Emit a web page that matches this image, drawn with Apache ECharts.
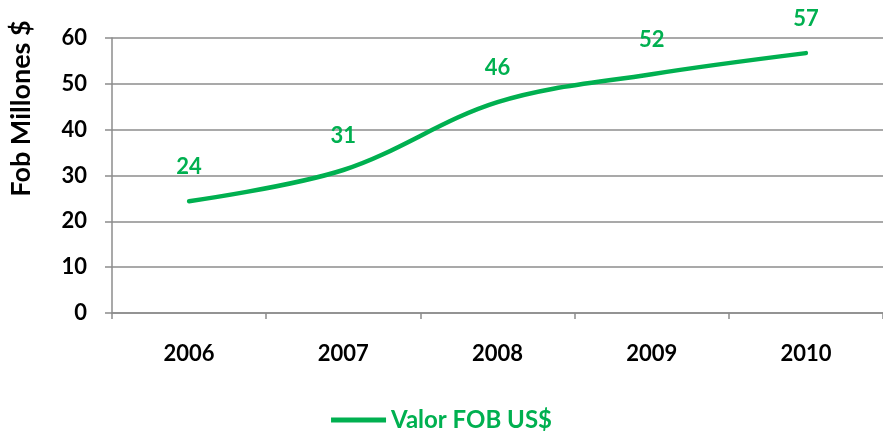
<!DOCTYPE html>
<html>
<head>
<meta charset="UTF-8">
<title>Valor FOB</title>
<script src="https://cdn.jsdelivr.net/npm/echarts@6/dist/echarts.min.js"></script>
<style>
    html, body { margin: 0; padding: 0; background: #ffffff; }
</style>
</head>
<body>
<div id="chart1" style="width: 883px;height: 437px;"></div>
<script type="text/javascript">
// datos
var years = ['2006', '2007', '2008', '2009', '2010'];
var fobValues = [24.4, 31.2, 46.0, 52.1, 56.7];
var fobLabels = ['24', '31', '46', '52', '57'];
var yTicks = [0, 10, 20, 30, 40, 50, 60];

var green = '#00B050';
var gray = '#8c8c8c';
var font = 'Lato, "Open Sans", sans-serif';

var chart1 = echarts.init(document.getElementById('chart1'));

var option = {
    backgroundColor: '#ffffff',
    animation: false,
    textStyle: { fontFamily: font },
    grid: {
        left: 112,
        right: -7,
        top: 38,
        bottom: 124,
        containLabel: false,
    },
    legend: {
        show: true,
        bottom: 0,
        left: 'center',
        itemWidth: 55,
        itemHeight: 5,
        itemGap: 4,
        icon: 'rect',
        data: ['Valor FOB US$'],
        itemStyle: { color: green, opacity: 1 },
        textStyle: {
            color: green,
            fontSize: 24,
            fontWeight: 'bold',
            fontFamily: font,
        },
    },
    xAxis: {
        type: 'category',
        data: years,
        boundaryGap: true,
        axisLine: { lineStyle: { color: gray, width: 1.5 } },
        axisTick: { show: true, length: 6, lineStyle: { color: gray, width: 1.5 } },
        axisLabel: {
            color: '#000000',
            fontSize: 22,
            fontWeight: 'bold',
            fontFamily: font,
            margin: 30,
        },
    },
    yAxis: {
        type: 'value',
        min: yTicks[0],
        max: yTicks[yTicks.length - 1],
        interval: 10,
        name: 'Fob Millones $',
        nameLocation: 'middle',
        nameGap: 77,
        nameRotate: 90,
        nameTextStyle: {
            color: '#000000',
            fontSize: 27,
            fontWeight: 'bold',
            fontFamily: font,
            padding: [0, 0, 0, 134],
        },
        axisLine: { show: true, lineStyle: { color: gray, width: 1.5 } },
        axisTick: { show: true, length: 7, lineStyle: { color: gray, width: 1.5 } },
        axisLabel: {
            color: '#000000',
            fontSize: 22,
            fontWeight: 'bold',
            fontFamily: font,
            margin: 25,
        },
        splitLine: { show: true, lineStyle: { color: gray, width: 1.5 } },
    },
    series: [
        {
            name: 'Valor FOB US$',
            type: 'line',
            data: fobValues,
            smooth: 0.35,
            symbol: 'circle',
            symbolSize: 2,
            showSymbol: true,
            lineStyle: { color: green, width: 4.5, cap: 'round' },
            itemStyle: { color: green },
            label: {
                show: true,
                position: 'top',
                distance: 22,
                color: green,
                fontSize: 22,
                fontWeight: 'bold',
                fontFamily: font,
                formatter: function (p) { return fobLabels[p.dataIndex]; },
            },
        },
    ],
};

chart1.setOption(option);
</script>
</body>
</html>
